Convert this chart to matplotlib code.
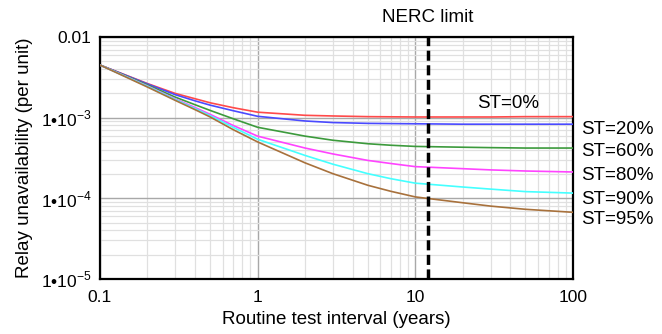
import numpy as np
import matplotlib
matplotlib.use("Agg")
import matplotlib.pyplot as plt
import matplotlib.transforms as mtransforms

plt.rcParams['font.family'] = ['Liberation Sans', 'DejaVu Sans']
plt.rcParams['mathtext.fontset'] = 'custom'
plt.rcParams['mathtext.rm'] = 'Liberation Sans'

# test interval (years)
T = [0.1, 0.2, 0.3, 0.4, 0.5, 0.7, 1, 2, 3, 5, 7, 10, 20, 30, 50, 100]

# relay unavailability (per unit)
st0 = [4.5e-3, 2.65e-3, 2.0e-3, 1.72e-3, 1.53e-3, 1.33e-3, 1.17e-3, 1.07e-3, 1.05e-3, 1.03e-3, 1.025e-3, 1.02e-3, 1.02e-3, 1.02e-3, 1.03e-3, 1.03e-3]
st20 = [4.5e-3, 2.62e-3, 1.93e-3, 1.62e-3, 1.43e-3, 1.22e-3, 1.04e-3, 9.1e-4, 8.7e-4, 8.5e-4, 8.45e-4, 8.4e-4, 8.3e-4, 8.3e-4, 8.3e-4, 8.3e-4]
st60 = [4.5e-3, 2.55e-3, 1.80e-3, 1.45e-3, 1.23e-3, 9.7e-4, 7.6e-4, 5.9e-4, 5.25e-4, 4.75e-4, 4.55e-4, 4.4e-4, 4.3e-4, 4.25e-4, 4.2e-4, 4.2e-4]
st80 = [4.5e-3, 2.48e-3, 1.71e-3, 1.34e-3, 1.10e-3, 8.0e-4, 5.9e-4, 4.2e-4, 3.55e-4, 2.95e-4, 2.7e-4, 2.47e-4, 2.33e-4, 2.25e-4, 2.18e-4, 2.12e-4]
st90 = [4.5e-3, 2.45e-3, 1.68e-3, 1.30e-3, 1.06e-3, 7.6e-4, 5.4e-4, 3.4e-4, 2.65e-4, 2.02e-4, 1.75e-4, 1.54e-4, 1.38e-4, 1.30e-4, 1.21e-4, 1.16e-4]
st95 = [4.5e-3, 2.4e-3, 1.64e-3, 1.26e-3, 1.02e-3, 7.1e-4, 5.0e-4, 2.75e-4, 2.02e-4, 1.45e-4, 1.22e-4, 1.04e-4, 8.8e-5, 8.0e-5, 7.3e-5, 6.7e-5]

nerc_limit = 12
yticks = [1e-5, 1e-4, 1e-3, 1e-2]
ytick_labels = [r'1•10$^{\mathregular{-5}}$', r'1•10$^{\mathregular{-4}}$',
                r'1•10$^{\mathregular{-3}}$', '0.01']
xticks = [0.1, 1, 10, 100]
xtick_labels = ['0.1', '1', '10', '100']

# label positions (y in data units)
right_labels = ['ST=20%', 'ST=60%', 'ST=80%', 'ST=90%', 'ST=95%']
right_label_y = [7.2e-4, 3.76e-4, 1.9e-4, 9.55e-5, 5.4e-5]

fig = plt.figure(figsize=(6.62, 3.34), dpi=100)
ax = fig.add_axes([0.151, 0.165, 0.7145, 0.724])

series = [st0, st20, st60, st80, st90, st95]
colors = ['#ff4a4a', '#4a4aff', '#3c9a3c', '#ff44ff', '#44ffff', '#a8713c']
for s, c in zip(series, colors):
    ax.plot(T, s, color=c, lw=1.2, zorder=3)

ax.axvline(nerc_limit, color='black', lw=2.5, dashes=(2.9, 1.3), zorder=4)

ax.set_xscale('log')
ax.set_yscale('log')
ax.set_xlim(0.1, 100)
ax.set_ylim(1e-5, 1e-2)

ax.set_xticks(xticks)
ax.set_xticklabels(xtick_labels)
ax.set_yticks(yticks)
ax.set_yticklabels(ytick_labels)
ax.grid(True, which='major', color='#a8a8a8', lw=1.0)
ax.grid(True, which='minor', color='#e0e0e0', lw=0.9)
ax.set_axisbelow(True)
ax.tick_params(which='both', length=0, labelsize=12.5)
ax.tick_params(axis='x', pad=8)
ax.tick_params(axis='y', pad=6)
for sp in ax.spines.values():
    sp.set_linewidth(1.6)

ax.set_xlabel('Routine test interval (years)', fontsize=13.5, labelpad=4)
ax.set_ylabel('Relay unavailability (per unit)', fontsize=13.5, labelpad=6)

trans = mtransforms.blended_transform_factory(ax.transData, ax.transAxes)
ax.text(nerc_limit, 1.083, 'NERC limit', transform=trans, ha='center', va='center', fontsize=13.5)
ax.text(39, 1.52e-3, 'ST=0%', ha='center', va='center', fontsize=13.5)

trans2 = mtransforms.blended_transform_factory(ax.transAxes, ax.transData)
for lab, y in zip(right_labels, right_label_y):
    ax.text(1.017, y, lab, transform=trans2, ha='left', va='center', fontsize=13.5, clip_on=False)

fig.savefig('out.png', dpi=100)
